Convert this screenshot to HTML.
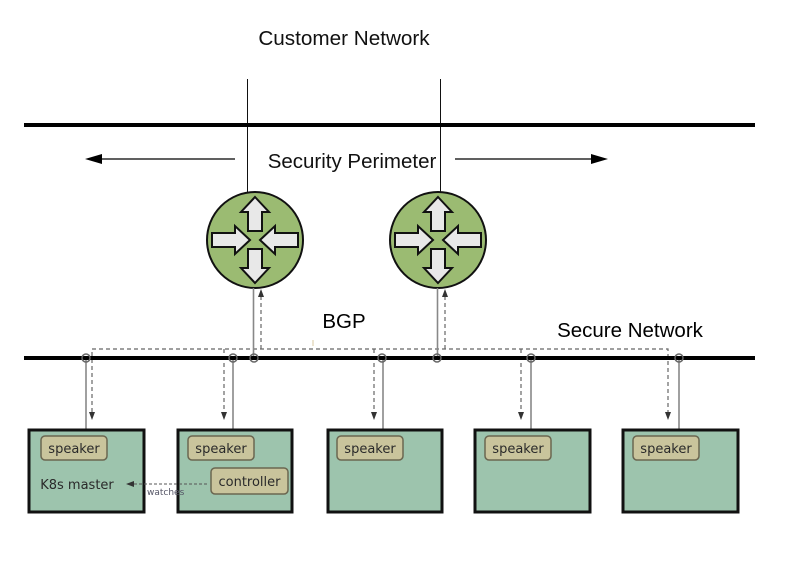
<!DOCTYPE html>
<html><head><style>
body{margin:0;background:#fff;}
svg{display:block;}
</style></head><body>
<svg width="793" height="583" viewBox="0 0 793 583" xmlns="http://www.w3.org/2000/svg">
<defs>
<g id="rt">
<circle r="48" fill="#9bbb72" stroke="#111" stroke-width="2"/>
<g fill="#e8e8e8" stroke="#111" stroke-width="2" stroke-linejoin="miter">
<path d="M0,-43 L14,-28 L7,-28 L7,-9 L-7,-9 L-7,-28 L-14,-28 Z"/>
<path d="M0,43 L14,28 L7,28 L7,9 L-7,9 L-7,28 L-14,28 Z"/>
<path d="M-5,0 L-20,-14 L-20,-7 L-43,-7 L-43,7 L-20,7 L-20,14 Z"/>
<path d="M5,0 L20,-14 L20,-7 L43,-7 L43,7 L20,7 L20,14 Z"/>
</g>
</g>
</defs>
<g font-family="Liberation Sans, sans-serif">
<text x="344" y="45" font-size="20.7" text-anchor="middle" fill="#111">Customer Network</text>
<text x="352" y="168" font-size="20.5" text-anchor="middle" fill="#111">Security Perimeter</text>
<text x="344" y="328" font-size="20.5" text-anchor="middle" fill="#000">BGP</text>
<text x="630" y="337" font-size="20.5" text-anchor="middle" fill="#000">Secure Network</text>
</g>
<line x1="247.5" y1="79" x2="247.5" y2="193" stroke="#111" stroke-width="1"/>
<line x1="440.5" y1="79" x2="440.5" y2="193" stroke="#111" stroke-width="1"/>
<rect x="24" y="123" width="731" height="4" fill="#000"/>
<line x1="235" y1="159" x2="100" y2="159" stroke="#000" stroke-width="1.3"/>
<path d="M85,159 L102,154 L102,164 Z" fill="#000"/>
<line x1="455" y1="159" x2="592" y2="159" stroke="#000" stroke-width="1.3"/>
<path d="M608,159 L591,154 L591,164 Z" fill="#000"/>
<use href="#rt" x="255" y="240"/>
<use href="#rt" x="438" y="240"/>
<g stroke="#666" stroke-width="1.2" stroke-dasharray="4,3" fill="none">
<path d="M92,412 L92,349 L668,349 L668,412"/>
<line x1="224" y1="349" x2="224" y2="412"/>
<line x1="374" y1="349" x2="374" y2="412"/>
<line x1="521" y1="349" x2="521" y2="412"/>
<line x1="261" y1="349" x2="261" y2="296"/>
<line x1="445" y1="349" x2="445" y2="296"/>
</g>
<g fill="#333">
<path d="M92,420 L89,412 L95,412 Z"/>
<path d="M224,420 L221,412 L227,412 Z"/>
<path d="M374,420 L371,412 L377,412 Z"/>
<path d="M521,420 L518,412 L524,412 Z"/>
<path d="M668,420 L665,412 L671,412 Z"/>
<path d="M261,289 L258,297 L264,297 Z"/>
<path d="M445,289 L442,297 L448,297 Z"/>
</g>
<line x1="313" y1="340" x2="313" y2="346" stroke="#d9c9a0" stroke-width="1"/>
<g stroke="#888" stroke-width="1.6">
<line x1="253.5" y1="288" x2="253.5" y2="358"/>
<line x1="437.5" y1="288" x2="437.5" y2="358"/>
<line x1="86" y1="358" x2="86" y2="430"/>
<line x1="233" y1="358" x2="233" y2="430"/>
<line x1="383" y1="358" x2="383" y2="430"/>
<line x1="531" y1="358" x2="531" y2="430"/>
<line x1="679" y1="358" x2="679" y2="430"/>
</g>
<rect x="24" y="356" width="731" height="4" fill="#000"/>
<g fill="none" stroke="#666" stroke-width="1.5">
<circle cx="86" cy="358" r="4"/>
<circle cx="233" cy="358" r="4"/>
<circle cx="254" cy="358" r="4"/>
<circle cx="382" cy="358" r="4"/>
<circle cx="437" cy="358" r="4"/>
<circle cx="531" cy="358" r="4"/>
<circle cx="679" cy="358" r="4"/>
</g>
<g fill="#9dc4ad" stroke="#111" stroke-width="3">
<rect x="29" y="430" width="115" height="82"/>
<rect x="178" y="430" width="114" height="82"/>
<rect x="328" y="430" width="114" height="82"/>
<rect x="475" y="430" width="115" height="82"/>
<rect x="623" y="430" width="115" height="82"/>
</g>
<g fill="#c9c49c" stroke="#6b6650" stroke-width="1.5">
<rect x="41" y="436" width="66" height="24" rx="4"/>
<rect x="188" y="436" width="66" height="24" rx="4"/>
<rect x="337" y="436" width="66" height="24" rx="4"/>
<rect x="485" y="436" width="66" height="24" rx="4"/>
<rect x="633" y="436" width="66" height="24" rx="4"/>
<rect x="211" y="468" width="77" height="26" rx="4"/>
</g>
<g font-family="DejaVu Sans, sans-serif" font-size="13" fill="#2a2a2a" text-anchor="middle">
<text x="74" y="453">speaker</text>
<text x="221" y="453">speaker</text>
<text x="370" y="453">speaker</text>
<text x="518" y="453">speaker</text>
<text x="666" y="453">speaker</text>
<text x="249.5" y="486">controller</text>
<text x="77" y="489">K8s master</text>
</g>
<line x1="207" y1="484" x2="133" y2="484" stroke="#555" stroke-width="1" stroke-dasharray="3,2"/>
<path d="M126,484 L134,481 L134,487 Z" fill="#333"/>
<text x="147" y="495" font-family="DejaVu Sans, sans-serif" font-size="9" fill="#556">watches</text>
</svg>
</body></html>
